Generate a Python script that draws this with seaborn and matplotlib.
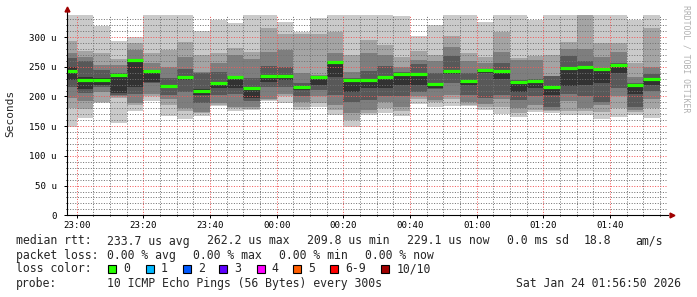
import numpy as np
import pandas as pd
import matplotlib
matplotlib.use("Agg")
import matplotlib.pyplot as plt
import seaborn as sns
from matplotlib.patches import Rectangle
from matplotlib.ticker import MultipleLocator, FixedLocator

# ---------------- data ----------------
# 10 sorted pings per 5-minute step (microseconds), rank 1 .. rank 10
ping01 = [149,163,189,156,176,192,167,162,167,184,176,177,192,189,177,183,169,149,169,172,167,188,182,184,184,177,170,166,174,172,169,169,162,165,169,163]
ping02 = [180,179,191,197,185,201,185,175,172,186,180,179,194,200,183,189,177,160,172,180,175,195,190,195,186,182,182,173,178,176,176,175,174,180,174,180]
ping03 = [197,193,208,200,189,204,195,180,174,189,183,182,196,205,190,200,185,172,177,190,183,200,194,202,190,187,195,180,185,178,193,180,185,200,178,195]
ping04 = [216,206,216,203,205,222,202,208,189,202,205,192,216,216,200,211,202,191,194,200,200,208,212,222,202,197,202,194,200,183,205,200,191,214,183,210]
ping05 = [228,212,220,206,216,225,214,228,202,214,215,197,225,228,211,219,233,208,214,214,219,219,214,238,219,240,230,208,215,202,218,219,222,240,205,219]
ping06 = [250,232,231,238,262,244,220,235,212,224,233,216,236,236,218,233,259,229,229,234,240,240,223,245,228,246,245,226,227,217,250,250,247,255,221,230]
ping07 = [265,259,245,240,263,245,231,247,239,242,234,231,251,250,222,234,260,231,243,251,241,255,240,268,240,247,256,227,229,234,268,259,248,257,222,238]
ping08 = [274,266,253,253,278,257,250,267,241,256,270,263,275,278,239,236,273,242,273,270,250,261,259,284,260,256,275,262,261,235,280,280,266,275,232,250]
ping09 = [294,277,273,263,290,273,278,292,270,273,281,275,315,306,306,306,309,270,295,287,267,277,270,301,274,266,309,264,268,270,292,344,290,290,257,315]
ping10 = [345,345,319,294,300,345,345,345,310,328,323,345,345,326,309,332,345,345,345,345,335,302,320,345,345,326,345,345,329,345,345,345,345,345,328,345]
median_rtt = [243,228,227,237,262,243,217,233,210,222,232,215,234.5,234.5,216.5,232,258,228,228,232,
              238,238,221,243,226.6,244.6,243,225,226,215.5,248.5,249,246,253.5,219.4,229]

first_start = "2026-01-23 22:57"
step_ends = pd.date_range("2026-01-23 23:00", "2026-01-24 01:55", freq="5min")
tick_labels = ["23:00", "23:20", "23:40", "00:00", "00:20", "00:40", "01:00", "01:20", "01:40"]
y_tick_values = [0, 50, 100, 150, 200, 250, 300]
y_tick_labels = ["0", "50 u", "100 u", "150 u", "200 u", "250 u", "300 u"]

rtt_stats = ["233.7 us avg", "262.2 us max", "209.8 us min", "229.1 us now", "0.0 ms sd", "18.8", "am/s"]
loss_stats = ["0.00 % avg", "0.00 % max", "0.00 % min", "0.00 % now"]
loss_labels = ["0", "1", "2", "3", "4", "5", "6-9", "10/10"]
loss_colors = ["#26ff00", "#00b8ff", "#0059ff", "#5e00ff", "#ff00ff", "#ff5e00", "#ff0000", "#a00000"]
probe_text = "10 ICMP Echo Pings (56 Bytes) every 300s"
stamp_text = "Sat Jan 24 01:56:50 2026"

# ---------------- figure ----------------
sns.set_theme(style="white")
plt.rcParams['font.family'] = ['DejaVu Sans Mono']

W, H = 697, 297
fig = plt.figure(figsize=(W / 100, H / 100), dpi=100, facecolor="white")
ax_l, ax_r, ax_b, ax_t = 66.7, 668.0, 215.3, 14.5
ax = fig.add_axes([ax_l / W, 1 - ax_b / H, (ax_r - ax_l) / W, (ax_b - ax_t) / H])
ax.set_facecolor("white")

t0 = pd.Timestamp("2026-01-23 23:00")
ends = np.array([(t - t0).total_seconds() / 60 for t in step_ends])
starts = np.concatenate([[(pd.Timestamp(first_start) - t0).total_seconds() / 60], ends[:-1]])
widths = ends - starts

pings = [np.array(p, dtype=float) for p in
         [ping01, ping02, ping03, ping04, ping05, ping06, ping07, ping08, ping09, ping10]]
shades = ["#cacaca", "#a4a4a4", "#7e7e7e", "#585858", "#323232"]
for i, c in enumerate(shades):
    lo, hi = pings[i], pings[9 - i]
    ax.bar(starts, hi - lo, width=widths, bottom=lo, align="edge", color=c,
           linewidth=0, antialiased=False, zorder=1)

ax.hlines(median_rtt, starts, ends, colors="#26ff00", linewidth=2.3, zorder=3,
          capstyle="butt")

ax.set_xlim(-3, 177.4)
ax.set_ylim(0, 338)

ax.xaxis.set_major_locator(FixedLocator(np.arange(0, 161, 20)))
ax.xaxis.set_minor_locator(MultipleLocator(5))
ax.set_xticklabels(tick_labels)
ax.yaxis.set_major_locator(FixedLocator(y_tick_values))
ax.yaxis.set_minor_locator(MultipleLocator(10))
ax.set_yticklabels(y_tick_labels)

ax.set_axisbelow(False)
ax.grid(which="minor", color=(0.45, 0.45, 0.45, 0.45), linestyle=(0, (1, 1.6)), linewidth=0.72, zorder=2)
ax.grid(which="major", color=(0.95, 0.35, 0.35, 0.45), linestyle=(0, (1, 1.6)), linewidth=0.72, zorder=2)

ax.tick_params(axis="both", which="major", labelsize=6.6, length=2, width=0.72,
               color="#000000", labelcolor="#000000", direction="out")
ax.tick_params(axis="both", which="minor", length=1, width=0.72, color="#000000")
ax.tick_params(axis="y", pad=5)
ax.tick_params(axis="x", pad=2)
ax.tick_params(bottom=True, left=True, which="both")

for s in ["top", "right"]:
    ax.spines[s].set_visible(False)
for s in ["left", "bottom"]:
    ax.spines[s].set_color("#000000")
    ax.spines[s].set_linewidth(0.8)
    ax.spines[s].set_zorder(4)

# axis extensions with arrows
ax.plot([0, 0], [1, 1.02], transform=ax.transAxes, color="#000000", lw=0.8, clip_on=False, zorder=4)
ax.plot([0], [1.025], transform=ax.transAxes, marker="^", color="#a00000", markersize=3.5,
        clip_on=False, zorder=5)
ax.plot([1.006], [0], transform=ax.transAxes, marker=">", color="#a00000", markersize=3.5,
        clip_on=False, zorder=5)

fig.text(10 / W, 1 - 113 / H, "Seconds", rotation=90, ha="center", va="center", fontsize=8)
fig.text(686 / W, 1 - 59 / H, "RRDTOOL / TOBI OETIKER", rotation=270, ha="center", va="center",
         fontsize=5.9, color="#b0b0b0")

# ---------------- legend ----------------
fs = 8.3
rows_y = [241, 255.5, 269, 283.5]
def ftext(x, y, s, **kw):
    fig.text(x / W, 1 - y / H, s, ha=kw.pop("ha", "left"), va="center", fontsize=fs, **kw)

ftext(16, rows_y[0], "median rtt:")
for x, s in zip([107.3, 207.3, 307.3, 407.3, 507.3, 584, 635.6], rtt_stats):
    ftext(x, rows_y[0], s)
ftext(16, rows_y[1], "packet loss:")
for x, s in zip([107.3, 193.3, 279.3, 365.3], loss_stats):
    ftext(x, rows_y[1], s)
ftext(16, rows_y[2], "loss color:")
box_x = [108.3, 145.7, 182.7, 219.3, 256.7, 293.3, 330.3, 381.3]
for x, lab, col in zip(box_x, loss_labels, loss_colors):
    fig.patches.append(Rectangle((x / W, 1 - 272.7 / H), 8 / W, 8 / H, transform=fig.transFigure,
                                 facecolor=col, edgecolor="#000000", linewidth=0.8, figure=fig))
    ftext(x + 15, rows_y[2], lab)
ftext(16, rows_y[3], "probe:")
ftext(107.3, rows_y[3], probe_text)
ftext(680.5, rows_y[3], stamp_text, ha="right")

fig.savefig("out.png", dpi=100, facecolor="white")
